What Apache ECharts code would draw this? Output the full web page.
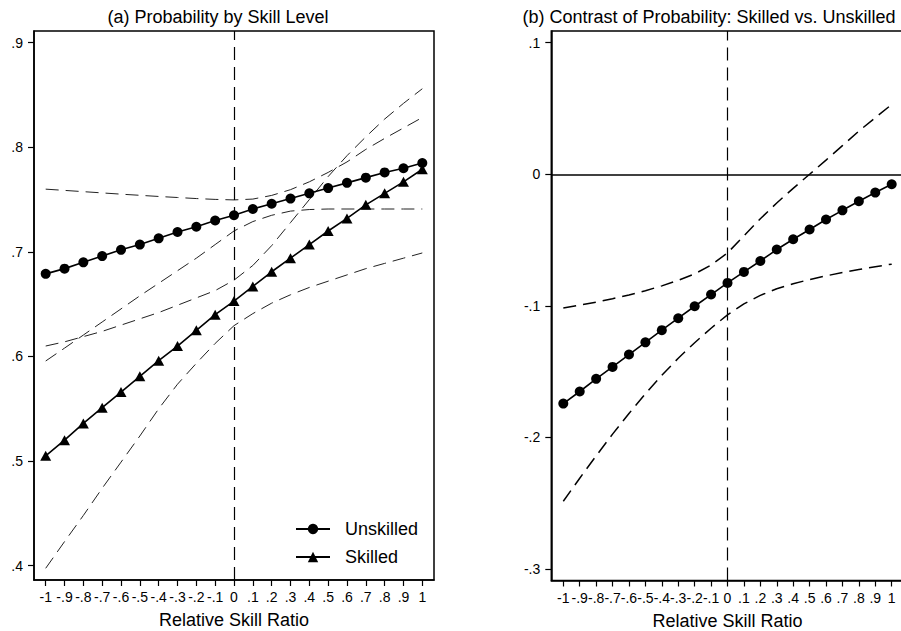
<!DOCTYPE html>
<html>
<head>
<meta charset="utf-8">
<script src="https://cdn.jsdelivr.net/npm/echarts@6/dist/echarts.min.js"></script>
<style>
  html, body { margin: 0; padding: 0; background: #fff; }
  #chart { width: 901px; height: 631px; }
</style>
</head>
<body>
<div id="chart"></div>
<script>
// Relative skill ratio grid (x values of every estimate)
const skillRatio = [-1, -0.9, -0.8, -0.7, -0.6, -0.5, -0.4, -0.3, -0.2, -0.1, 0,
                    0.1, 0.2, 0.3, 0.4, 0.5, 0.6, 0.7, 0.8, 0.9, 1];

// Tick positions and their printed labels
const xTicks = [-1, -0.9, -0.8, -0.7, -0.6, -0.5, -0.4, -0.3, -0.2, -0.1, 0,
                0.1, 0.2, 0.3, 0.4, 0.5, 0.6, 0.7, 0.8, 0.9, 1];
const xTickLabels = ['-1', '-.9', '-.8', '-.7', '-.6', '-.5', '-.4', '-.3', '-.2', '-.1', '0',
                     '.1', '.2', '.3', '.4', '.5', '.6', '.7', '.8', '.9', '1'];
const probTicks = [0.4, 0.5, 0.6, 0.7, 0.8, 0.9];
const probTickLabels = ['.4', '.5', '.6', '.7', '.8', '.9'];
const contrastTicks = [-0.3, -0.2, -0.1, 0, 0.1];
const contrastTickLabels = ['-.3', '-.2', '-.1', '0', '.1'];

// (a) predicted probability by skill level, with confidence bounds
const unskilled   = [0.679, 0.684, 0.690, 0.696, 0.702, 0.707, 0.713, 0.719, 0.724, 0.730, 0.735,
                     0.741, 0.746, 0.751, 0.756, 0.761, 0.766, 0.771, 0.776, 0.780, 0.785];
const unskilledHi = [0.760, 0.7588, 0.7576, 0.7564, 0.7552, 0.7541, 0.7530, 0.7520, 0.7510, 0.7502, 0.7497,
                     0.7505, 0.7540, 0.7595, 0.7670, 0.7760, 0.7860, 0.7980, 0.8085, 0.8185, 0.8285];
const unskilledLo = [0.5957, 0.608, 0.6205, 0.633, 0.6455, 0.658, 0.670, 0.682, 0.694, 0.707, 0.720,
                     0.729, 0.735, 0.739, 0.7405, 0.741, 0.741, 0.741, 0.741, 0.741, 0.741];
const skilled     = [0.505, 0.520, 0.536, 0.551, 0.566, 0.581, 0.596, 0.610, 0.625, 0.640, 0.653,
                     0.667, 0.681, 0.694, 0.707, 0.720, 0.732, 0.745, 0.756, 0.767, 0.779];
const skilledHi   = [0.610, 0.614, 0.619, 0.624, 0.630, 0.636, 0.642, 0.649, 0.656, 0.663, 0.673,
                     0.687, 0.706, 0.728, 0.750, 0.772, 0.792, 0.810, 0.827, 0.842, 0.856];
const skilledLo   = [0.3975, 0.423, 0.448, 0.474, 0.499, 0.524, 0.550, 0.5735, 0.5935, 0.6125, 0.6295,
                     0.641, 0.651, 0.659, 0.666, 0.672, 0.678, 0.684, 0.689, 0.694, 0.699];

// (b) contrast skilled - unskilled, with confidence bounds
const contrast    = [-0.1743, -0.1651, -0.1555, -0.1464, -0.1370, -0.1277, -0.1185, -0.1094, -0.1003, -0.0914, -0.0826,
                     -0.0742, -0.0659, -0.0572, -0.0494, -0.0420, -0.0344, -0.0274, -0.0205, -0.0139, -0.0076];
const contrastHi  = [-0.1016, -0.0995, -0.0972, -0.0946, -0.0917, -0.0885, -0.0848, -0.0806, -0.0757, -0.0690, -0.0598,
                     -0.0468, -0.0338, -0.0218, -0.0107, 0.0000, 0.0108, 0.0218, 0.0328, 0.0430, 0.0530];
const contrastLo  = [-0.2485, -0.2310, -0.2140, -0.1975, -0.1818, -0.1668, -0.1528, -0.1398, -0.1280, -0.1170, -0.1068,
                     -0.0985, -0.0920, -0.0870, -0.0832, -0.0800, -0.0772, -0.0747, -0.0724, -0.0703, -0.0683];

const FONT = '"Liberation Sans", Arial, Helvetica, sans-serif';
const BLACK = '#000';
const DASH = [13, 7];

function pairs(ys) { return skillRatio.map((x, i) => [x, ys[i]]); }
function labelFor(ticks, labels) {
  return v => {
    const i = ticks.findIndex(t => Math.abs(t - v) < 1e-9);
    return i >= 0 ? labels[i] : '';
  };
}

function xAxisFor(gridIndex, span) {
  return {
    type: 'value', gridIndex, min: -span, max: span,
    name: 'Relative Skill Ratio', nameLocation: 'middle', nameGap: 31,
    nameTextStyle: { fontSize: 18, color: BLACK, fontFamily: FONT },
    axisLine: { show: true, onZero: false, lineStyle: { color: BLACK, width: 1.5 } },
    axisTick: { show: true, length: 6, customValues: xTicks, lineStyle: { color: BLACK, width: 1.2 } },
    axisLabel: { customValues: xTicks, formatter: labelFor(xTicks, xTickLabels), margin: 10,
                 fontSize: 14, color: BLACK, fontFamily: FONT, hideOverlap: false },
    splitLine: { show: false }
  };
}
function yAxisFor(gridIndex, min, max, ticks, labels) {
  return {
    type: 'value', gridIndex, min, max,
    axisLine: { show: true, onZero: false, lineStyle: { color: BLACK, width: 1.5 } },
    axisTick: { show: true, length: 6, customValues: ticks, lineStyle: { color: BLACK, width: 1.2 } },
    axisLabel: { customValues: ticks, formatter: labelFor(ticks, labels), margin: 11,
                 fontSize: 14, color: BLACK, fontFamily: FONT, hideOverlap: false },
    splitLine: { show: false }
  };
}

function bandLine(name, ys, axis, width, color) {
  return {
    name, type: 'line', xAxisIndex: axis, yAxisIndex: axis, data: pairs(ys),
    showSymbol: false, symbol: 'none', silent: true, z: 2,
    lineStyle: { color, width, type: DASH }
  };
}
function vLine() {
  return { silent: true, symbol: ['none', 'none'], label: { show: false },
           lineStyle: { color: BLACK, width: 1.2, type: DASH }, data: [{ xAxis: 0 }] };
}

const chart = echarts.init(document.getElementById('chart'), null, { renderer: 'svg' });
chart.setOption({
  animation: false,
  backgroundColor: '#fff',
  textStyle: { fontFamily: FONT, color: BLACK },
  graphic: [
    { type: 'text', x: 218, y: 17,
      style: { text: '(a) Probability by Skill Level', fontSize: 18, fontFamily: FONT, fill: BLACK,
               align: 'center', verticalAlign: 'middle' } },
    { type: 'text', x: 709, y: 17,
      style: { text: '(b) Contrast of Probability: Skilled vs. Unskilled', fontSize: 18, fontFamily: FONT, fill: BLACK,
               align: 'center', verticalAlign: 'middle' } }
  ],
  grid: [
    { left: 34, top: 31, width: 400, height: 549, show: true, borderColor: BLACK, borderWidth: 1.5,
      backgroundColor: 'transparent', outerBoundsMode: 'none' },
    { left: 551.3, top: 31, width: 352.4, height: 549.5, show: true, borderColor: BLACK, borderWidth: 1.5,
      backgroundColor: 'transparent', outerBoundsMode: 'none' }
  ],
  xAxis: [ xAxisFor(0, 1.0621), xAxisFor(1, 1.0731) ],
  yAxis: [
    yAxisFor(0, 0.3863, 0.9112, probTicks, probTickLabels),
    yAxisFor(1, -0.30874, 0.10889, contrastTicks, contrastTickLabels)
  ],
  legend: {
    data: ['Unskilled', 'Skilled'], orient: 'vertical', left: 295, top: 520, padding: 0,
    itemWidth: 34, itemHeight: 13, itemGap: 10,
    textStyle: { fontSize: 18, color: BLACK, fontFamily: FONT, padding: [0, 0, 0, 10] }
  },
  series: [
    Object.assign(bandLine('Unskilled upper', unskilledHi, 0, 1, '#222'), { markLine: vLine() }),
    bandLine('Unskilled lower', unskilledLo, 0, 1, '#222'),
    bandLine('Skilled upper', skilledHi, 0, 1, '#222'),
    bandLine('Skilled lower', skilledLo, 0, 1, '#222'),
    {
      name: 'Unskilled', type: 'line', xAxisIndex: 0, yAxisIndex: 0, data: pairs(unskilled),
      symbol: 'circle', symbolSize: 10, showAllSymbol: true, z: 3,
      lineStyle: { color: BLACK, width: 1.6 }, itemStyle: { color: BLACK, borderWidth: 0 }
    },
    {
      name: 'Skilled', type: 'line', xAxisIndex: 0, yAxisIndex: 0, data: pairs(skilled),
      symbol: 'triangle', symbolSize: [11, 10], showAllSymbol: true, z: 3,
      lineStyle: { color: BLACK, width: 1.6 }, itemStyle: { color: BLACK, borderWidth: 0 }
    },
    Object.assign(bandLine('Contrast upper', contrastHi, 1, 1.5, BLACK), { markLine: vLine() }),
    bandLine('Contrast lower', contrastLo, 1, 1.5, BLACK),
    {
      name: 'Contrast', type: 'line', xAxisIndex: 1, yAxisIndex: 1, data: pairs(contrast),
      symbol: 'circle', symbolSize: 10, showAllSymbol: true, z: 3,
      lineStyle: { color: BLACK, width: 1.6 }, itemStyle: { color: BLACK, borderWidth: 0 },
      markLine: { silent: true, symbol: ['none', 'none'], label: { show: false },
                  lineStyle: { color: BLACK, width: 1.5, type: 'solid' }, data: [{ yAxis: 0 }] }
    }
  ]
});
</script>
</body>
</html>
